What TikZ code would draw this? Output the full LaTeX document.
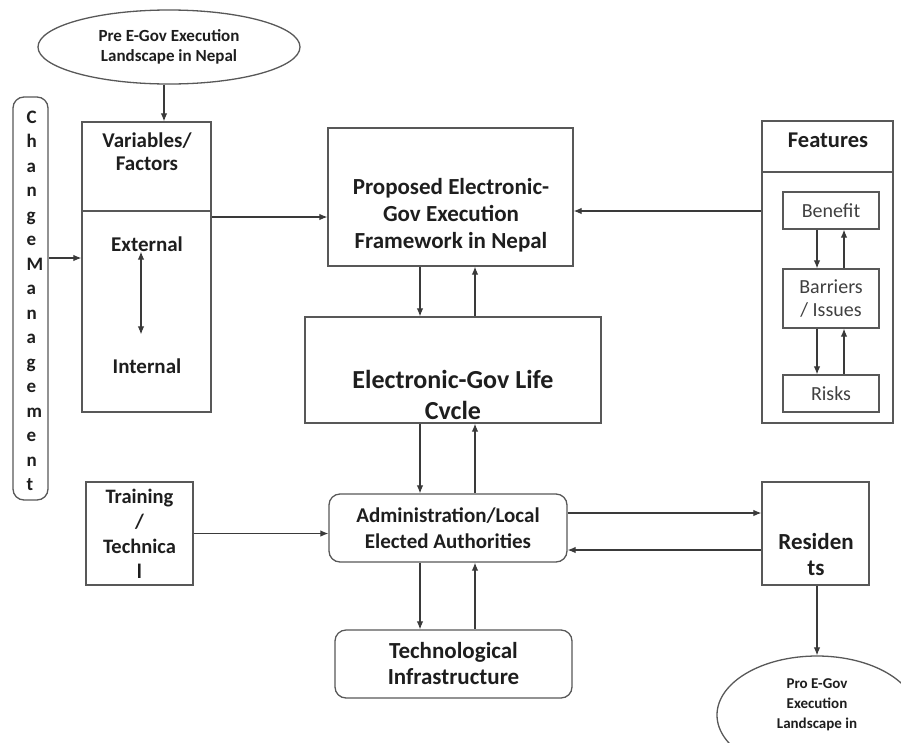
\documentclass[tikz,border=0pt]{standalone}
\usepackage{fontspec}
\setmainfont{Carlito}
\usetikzlibrary{arrows.meta,shapes.geometric}
\definecolor{edge}{HTML}{585858}
\definecolor{ink}{HTML}{1E1E1E}
\definecolor{wire}{HTML}{3A3A3A}
\begin{document}
\begin{tikzpicture}[x=1pt,y=-1pt,
    >={Latex[length=8pt,width=6.5pt]},
    box/.style={draw=edge,line width=1.3pt,inner sep=0pt},
    rbox/.style={box,rounded corners=11pt},
    oval/.style={box,ellipse},
    txt/.style 2 args={text=ink,align=center,inner sep=0pt,font=\bfseries\fontsize{#1}{#2}\selectfont},
    sub/.style={text=ink!85,align=center,font=\fontsize{20}{23}\selectfont},
    conn/.style={draw=wire,line width=1.1pt}]
    \useasboundingbox (0,0) rectangle (901,742);
    \node[oval,txt={17}{20},minimum width=262pt,minimum height=74pt] (pre) at (169,47) {Pre E-Gov Execution\\Landscape in Nepal};
    \node[rbox,minimum width=35pt,minimum height=403pt] (chg) at (30.5,298.5) {};
    \node[txt={19}{24.5},align=left,anchor=west] (chgtxt) at ([xshift=14pt,yshift=-2.5pt]chg.west) {C\\h\\a\\n\\g\\e\\M\\a\\n\\a\\g\\e\\m\\e\\n\\t};
    \node[box,minimum width=129pt,minimum height=89pt] (varhead) at (146.5,166.5) {};
    \node[txt={21}{23}] (vartxt) at (147,151.5) {Variables/\\Factors};
    \node[box,minimum width=129pt,minimum height=201pt] (varbody) at (146.5,311.5) {};
    \node[txt={21}{23}] (ext) at (147,244) {External};
    \node[txt={21}{23}] (int) at (147,366) {Internal};
    \node[box,minimum width=245pt,minimum height=138pt] (prop) at (450.5,197) {};
    \node[txt={23}{27}] (proptxt) at (451,215) {Proposed Electronic-\\Gov Execution\\Framework in Nepal};
    \node[box,minimum width=296pt,minimum height=106pt] (life) at (453,370) {};
    \node[txt={26}{31}] (lifetxt) at (453,394.5) {Electronic-Gov Life\\Cvcle};
    \node[box,minimum width=131pt,minimum height=51pt] (feathead) at (827.5,146.5) {};
    \node[txt={22.5}{23}] (feattxt) at (828,140) {Features};
    \node[box,minimum width=131pt,minimum height=251pt] (featbody) at (827.5,297.5) {};
    \node[box,sub,minimum width=96pt,minimum height=37pt] (ben) at (831,210.5) {Benefit};
    \node[box,sub,minimum width=96pt,minimum height=59pt] (barr) at (831,298.5) {Barriers\\/ Issues};
    \node[box,sub,minimum width=96pt,minimum height=37pt] (risk) at (831,393.5) {Risks};
    \node[rbox,txt={21}{26},minimum width=238pt,minimum height=68pt] (admin) at (448,528) {Administration/Local\\Elected Authorities};
    \node[rbox,txt={23}{26},minimum width=237pt,minimum height=68pt] (tech) at (453.5,664) {Technological\\Infrastructure};
    \node[box,txt={20.5}{25},minimum width=107pt,minimum height=103pt] (train) at (139.5,533.5) {Training\\/\\Technica\\l};
    \node[box,minimum width=107pt,minimum height=103pt] (resid) at (815.5,533.5) {};
    \node[txt={23}{26}] (residtxt) at (816,555) {Residen\\ts};
    \node[oval,minimum width=200pt,minimum height=118pt] (post) at (817,715) {};
    \node[txt={15}{20}] (posttxt) at (817,705) {Pro E-Gov\\Execution\\Landscape in};
    \begin{scope}[conn]
    \draw[->] ([xshift=-5pt]pre.south) coordinate (a) -- (a |- varhead.north);
    \draw[<-] ([yshift=53.5pt]varbody.west) coordinate (a) -- (a -| chg.east);
    \draw[<->] ([xshift=-6pt]ext.south) -- ([xshift=-6pt,yshift=24pt]int.north);
    \draw[<-] ([yshift=-20pt]prop.west) coordinate (a) -- (a -| varbody.east);
    \draw[<-] ([yshift=-14pt]prop.east) coordinate (a) -- (a -| featbody.west);
    \draw[->] ([xshift=-30.5pt]prop.south) coordinate (a) -- (a |- life.north);
    \draw[<-] ([xshift=24.5pt]prop.south) coordinate (a) -- (a |- life.north);
    \draw[->] ([xshift=-33pt]life.south) coordinate (a) -- (a |- admin.north);
    \draw[<-] ([xshift=22pt]life.south) coordinate (a) -- (a |- admin.north);
    \draw[->] ([xshift=-28pt]admin.south) coordinate (a) -- (a |- tech.north);
    \draw[<-] ([xshift=27pt]admin.south) coordinate (a) -- (a |- tech.north);
    \draw[->] (train.east) -- (train.east -| admin.west);
    \draw[->] ([yshift=15pt]admin.east) coordinate (a) -- (a -| resid.west);
    \draw[<-] ([yshift=-22pt]admin.east) coordinate (a) -- (a -| resid.west);
    \draw[->] ([xshift=1.5pt]resid.south) coordinate (a) -- (a |- post.north);
    \draw[->] ([xshift=-14pt]ben.south) coordinate (a) -- (a |- barr.north);
    \draw[<-] ([xshift=13pt]ben.south) coordinate (a) -- (a |- barr.north);
    \draw[->] ([xshift=-14pt]barr.south) coordinate (a) -- (a |- risk.north);
    \draw[<-] ([xshift=13pt]barr.south) coordinate (a) -- (a |- risk.north);
    \end{scope}
\end{tikzpicture}
\end{document}
